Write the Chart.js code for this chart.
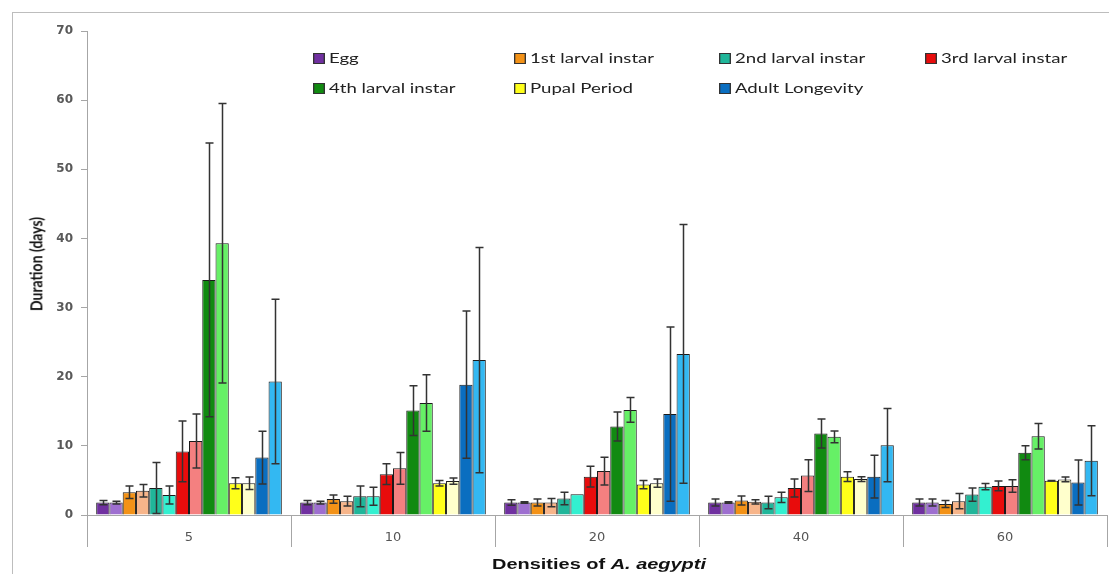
<!DOCTYPE html>
<html>
<head>
<meta charset="utf-8">
<script src="https://cdn.jsdelivr.net/npm/chart.js@4"></script>
<style>
  html, body { margin: 0; padding: 0; background: #fff; }
  #wrap { position: relative; width: 1109px; height: 574px; overflow: hidden; }
  #frame { position: absolute; left: 12px; top: 12px; width: 1110px; height: 600px; border: 1px solid #bdbdbd; box-sizing: border-box; }
  canvas { position: absolute; left: 0; top: 0; }
  .legend { position: absolute; font-family: Lato, 'Open Sans', sans-serif; font-size: 14px; color: #222; white-space: nowrap; transform: scaleX(1.33); transform-origin: left center; }
  .legend i { display: inline-block; width: 7px; height: 9px; border: 1px solid #333; margin-right: 3px; vertical-align: -1px; }
  #ytitle { position: absolute; left: 35px; top: 264px; transform: translate(-50%, -50%) rotate(-90deg) scaleY(1.25); font-family: Lato, 'Open Sans', sans-serif; font-weight: bold; font-size: 14px; color: #111; white-space: nowrap; }
  #xtitle { position: absolute; left: 599px; top: 563px; transform: translate(-50%, -50%) scaleX(1.33); font-family: 'Liberation Sans', Arial, sans-serif; font-weight: bold; font-size: 15px; color: #111; white-space: nowrap; }
</style>
</head>
<body>
<div id="wrap">
  <div id="frame"></div>
  <canvas id="chart" width="1109" height="574"></canvas>
  <div id="legend"></div>
  <div id="ytitle">Duration (days)</div>
  <div id="xtitle">Densities of <i>A. aegypti</i></div>
</div>
<script>
  // densities (x categories)
  const densities = ['5', '10', '20', '40', '60'];
  const stages = ['Egg', '1st larval instar', '2nd larval instar', '3rd larval instar', '4th larval instar', 'Pupal Period', 'Adult Longevity'];

  // two bars per stage (dark / light), means and error values in days
  const eggA = [1.8, 1.8, 1.8, 1.8, 1.8];
  const eggAErr = [0.3, 0.3, 0.4, 0.5, 0.5];
  const eggB = [1.8, 1.8, 1.8, 1.8, 1.8];
  const eggBErr = [0.2, 0.2, 0.1, 0.1, 0.5];
  const l1A = [3.3, 2.3, 1.8, 2.1, 1.6];
  const l1AErr = [0.9, 0.6, 0.5, 0.65, 0.5];
  const l1B = [3.5, 2.0, 1.8, 1.9, 2.0];
  const l1BErr = [0.9, 0.7, 0.6, 0.3, 1.1];
  const l2A = [3.9, 2.7, 2.4, 1.8, 2.95];
  const l2AErr = [3.7, 1.5, 0.9, 0.9, 0.95];
  const l2B = [2.9, 2.7, 3.0, 2.55, 4.1];
  const l2BErr = [1.3, 1.3, 0, 0.75, 0.45];
  const l3A = [9.2, 5.9, 5.55, 3.9, 4.2];
  const l3AErr = [4.4, 1.5, 1.5, 1.3, 0.7];
  const l3B = [10.7, 6.75, 6.35, 5.7, 4.2];
  const l3BErr = [3.9, 2.3, 2.0, 2.3, 0.9];
  const l4A = [34.0, 15.1, 12.8, 11.8, 9.0];
  const l4AErr = [19.8, 3.6, 2.1, 2.1, 1.0];
  const l4B = [39.3, 16.2, 15.2, 11.3, 11.4];
  const l4BErr = [20.2, 4.1, 1.8, 0.85, 1.85];
  const pupA = [4.6, 4.6, 4.4, 5.55, 4.95];
  const pupAErr = [0.8, 0.4, 0.6, 0.7, 0.05];
  const pupB = [4.6, 4.9, 4.6, 5.2, 5.15];
  const pupBErr = [0.9, 0.45, 0.6, 0.35, 0.35];
  const adA = [8.3, 18.85, 14.6, 5.55, 4.7];
  const adAErr = [3.8, 10.65, 12.6, 3.1, 3.25];
  const adB = [19.3, 22.4, 23.3, 10.1, 7.85];
  const adBErr = [11.9, 16.3, 18.7, 5.3, 5.05];

  const yTicks = [0, 10, 20, 30, 40, 50, 60, 70];

  const darkColors = ['#7030a0', '#f39217', '#20b69a', '#e80c0c', '#118a11', '#ffff1a', '#0a6ec0'];
  const lightColors = ['#9e6fd0', '#f7b58a', '#33f0d0', '#f48080', '#66f066', '#ffffcc', '#33b8f2'];

  const pairs = [
    [eggA, eggAErr, eggB, eggBErr],
    [l1A, l1AErr, l1B, l1BErr],
    [l2A, l2AErr, l2B, l2BErr],
    [l3A, l3AErr, l3B, l3BErr],
    [l4A, l4AErr, l4B, l4BErr],
    [pupA, pupAErr, pupB, pupBErr],
    [adA, adAErr, adB, adBErr]
  ];

  const datasets = [];
  pairs.forEach((p, i) => {
    datasets.push({ label: stages[i], data: p[0], errors: p[1], backgroundColor: darkColors[i], borderColor: '#1a1a1a', borderWidth: 1 });
    datasets.push({ label: stages[i] + ' ', data: p[2], errors: p[3], backgroundColor: lightColors[i], borderColor: '#1a1a1a', borderWidth: 1 });
  });

  // legend, 4 columns
  const legendPos = [[313, 58], [514, 58], [719, 58], [925, 58], [313, 88], [514, 88], [719, 88]];
  const legend = document.getElementById('legend');
  stages.forEach((s, i) => {
    const d = document.createElement('div');
    d.className = 'legend';
    d.style.left = legendPos[i][0] + 'px';
    d.style.top = (legendPos[i][1] - 9) + 'px';
    d.innerHTML = '<i style="background:' + darkColors[i] + '"></i>' + s;
    legend.appendChild(d);
  });

  const errorBars = {
    id: 'errorBars',
    afterDatasetsDraw(chart) {
      const ctx = chart.ctx;
      const y = chart.scales.y;
      ctx.save();
      ctx.strokeStyle = '#333';
      ctx.lineWidth = 1.5;
      chart.data.datasets.forEach((ds, i) => {
        const meta = chart.getDatasetMeta(i);
        meta.data.forEach((bar, j) => {
          const v = ds.data[j], e = ds.errors[j];
          if (!e) return;
          const top = y.getPixelForValue(v + e);
          const bot = y.getPixelForValue(Math.max(0, v - e));
          const x = Math.round(bar.x) + 0.5;
          ctx.beginPath();
          ctx.moveTo(x, top); ctx.lineTo(x, bot);
          ctx.moveTo(x - 4, top); ctx.lineTo(x + 4, top);
          ctx.moveTo(x - 4, bot); ctx.lineTo(x + 4, bot);
          ctx.stroke();
        });
      });
      ctx.restore();
    }
  };

  new Chart(document.getElementById('chart').getContext('2d'), {
    type: 'bar',
    data: { labels: densities, datasets: datasets },
    plugins: [errorBars],
    options: {
      responsive: false,
      animation: false,
      layout: { padding: { left: 12, top: 31, right: 2, bottom: 0 } },
      plugins: { legend: { display: false }, tooltip: { enabled: false } },
      datasets: { bar: { categoryPercentage: 0.91, barPercentage: 1.0 } },
      scales: {
        x: {
          afterFit: (s) => { s.height = 59; },
          grid: { offset: true, drawOnChartArea: false, drawTicks: true, tickLength: 32, color: '#a6a6a6' },
          border: { display: true, color: '#a6a6a6' },
          ticks: { padding: -17, color: '#555', font: { family: 'DejaVu Sans', size: 13 } }
        },
        y: {
          min: 0, max: 70,
          afterFit: (s) => { s.width = 75; },
          afterBuildTicks: (s) => { s.ticks = yTicks.map(v => ({ value: v })); },
          grid: { drawOnChartArea: false, drawTicks: true, tickLength: 6, color: '#a6a6a6' },
          border: { display: true, color: '#a6a6a6' },
          ticks: { padding: 8, color: '#595959', font: { family: 'DejaVu Sans', size: 12, weight: 'bold' } }
        }
      }
    }
  });
</script>
</body>
</html>
